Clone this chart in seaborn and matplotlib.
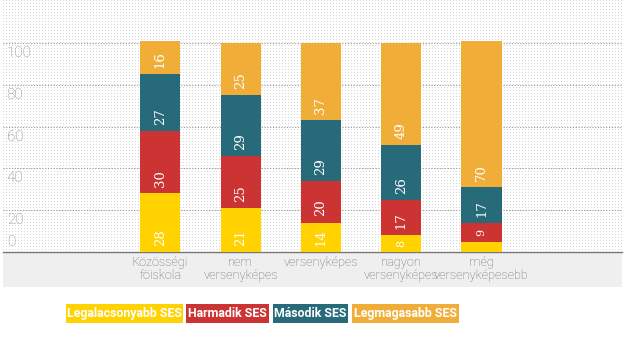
import numpy as np
import pandas as pd
import matplotlib
matplotlib.use("Agg")
import matplotlib.pyplot as plt
from matplotlib.patches import Rectangle
import seaborn as sns

categories = ["Közösségi\nföiskola", "nem\nversenyképes", "versenyképes",
              "nagyon\nversenyképes", "még\nversenyképesebb"]
series = ["Legalacsonyabb SES", "Harmadik SES", "Második SES", "Legmagasabb SES"]
lowest = [28, 21, 14, 8, 5]
third = [30, 25, 20, 17, 9]
second = [27, 29, 29, 26, 17]
highest = [16, 25, 37, 49, 70]
yticks = [0, 20, 40, 60, 80, 100]

colors = ["#FFD200", "#CC3333", "#276B7A", "#F0AE38"]

sns.set_style("white")
plt.rcParams["font.family"] = ["Roboto", "DejaVu Sans"]

W, H = 624, 351
fig = plt.figure(figsize=(W / 100, H / 100), dpi=100)
ax = fig.add_axes([3 / W, 1 - 252 / H, 619 / W, 252 / H])

# dotted background pattern
pat = np.ones((252, 619, 3))
pat[::3, ::3] = 0.84
ax.imshow(pat, extent=[0, 1, 0, 1], transform=ax.transAxes, aspect="auto",
          interpolation="nearest", zorder=0)

df = pd.DataFrame({"cat": categories, series[0]: lowest, series[1]: third,
                   series[2]: second, series[3]: highest})
bottom = np.zeros(len(categories))
for s, c in zip(series, colors):
    vals = df[s].values
    sns.barplot(x=df["cat"], y=vals, bottom=bottom, color=c, width=0.5,
                saturation=1, linewidth=0, ax=ax, zorder=3)
    for i, v in enumerate(vals):
        if v >= 6:
            ax.text(i, bottom[i] + min(v / 2, 7), str(v), rotation=90,
                    ha="center", va="center", color="white",
                    fontsize=8 if v < 10 else 9.5,
                    family=["DejaVu Serif"], zorder=4)
    bottom = bottom + vals

ax.set_xlim(-1.96, 5.75)
ax.set_ylim(0, 120.5)
ax.set_yticks([])
ax.set_xlabel("")
ax.set_ylabel("")
for y in yticks[1:]:
    ax.axhline(y, color="#999999", linestyle=(0, (1, 1.5)), linewidth=0.8, zorder=1)
for y in yticks:
    ax.text(0.006, y + (1.2 if y == 0 else -1.5), str(y), transform=ax.get_yaxis_transform(),
            ha="left", va="bottom" if y == 0 else "top", color="#8a8a8a",
            fontsize=11, fontweight="light", zorder=2)

for sp in ["top", "right", "left"]:
    ax.spines[sp].set_visible(False)
ax.spines["bottom"].set_color("#777777")
ax.spines["bottom"].set_linewidth(1)
ax.tick_params(axis="x", length=0, pad=3, labelsize=9.2, labelcolor="#6f6f6f")
for lab in ax.get_xticklabels():
    lab.set_linespacing(1.0)
    lab.set_fontweight("light")

# gray band behind category labels
fig.patches.append(Rectangle((3 / W, 1 - 287 / H), 619 / W, 35 / H,
                             transform=fig.transFigure, facecolor="#EFEFEF",
                             edgecolor="none", zorder=-1))

# legend boxes
boxes = [(66, 117), (186, 83), (273, 75), (352, 107)]
for (x0, w), s, c in zip(boxes, series, colors):
    fig.patches.append(Rectangle((x0 / W, 1 - 323 / H), w / W, 19 / H,
                                 transform=fig.transFigure, facecolor=c,
                                 edgecolor="none"))
    fig.text((x0 + w / 2) / W, 1 - 313.5 / H, s, ha="center", va="center",
             color="white", fontsize=8.9, fontweight="bold")

fig.savefig("out.png", dpi=100)
